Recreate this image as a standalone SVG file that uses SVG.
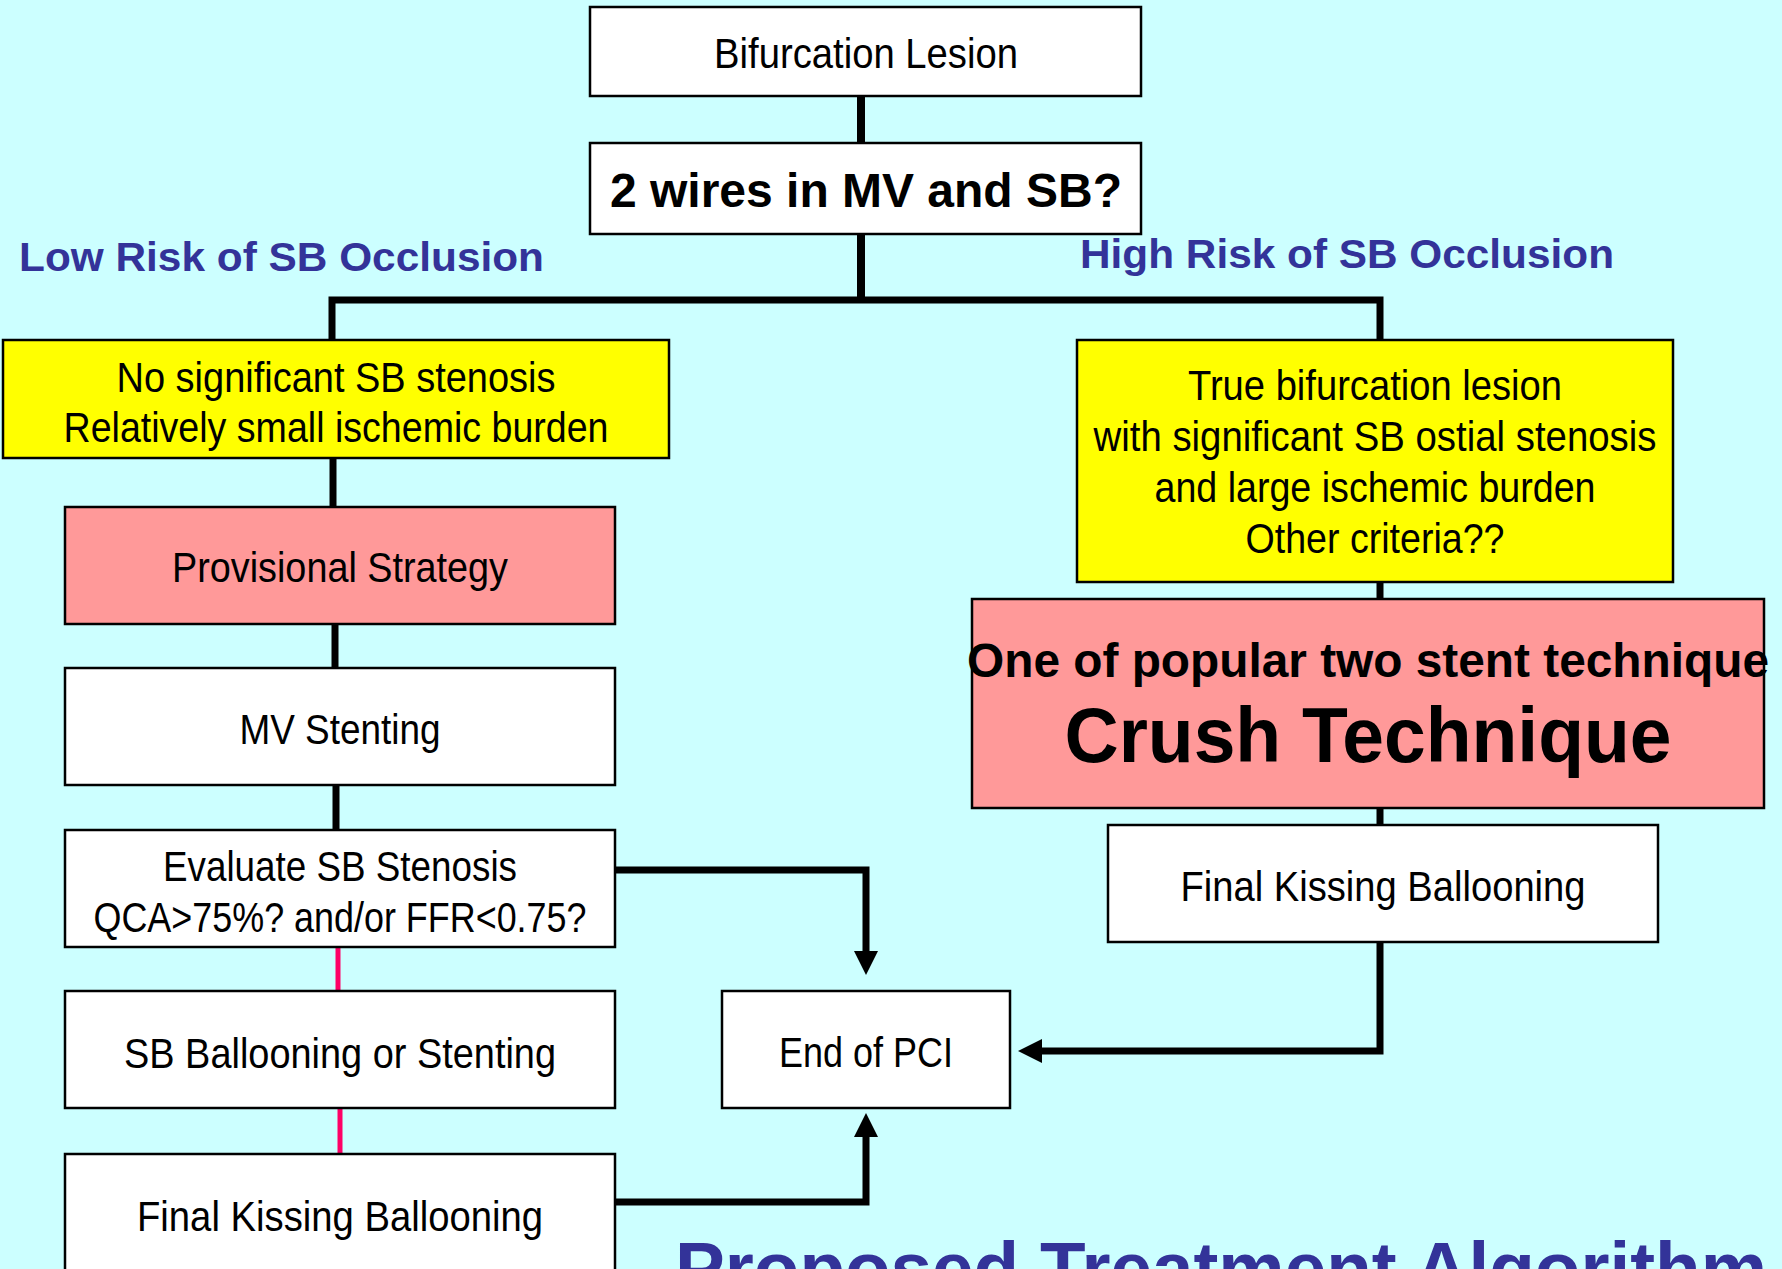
<svg xmlns="http://www.w3.org/2000/svg" width="1782" height="1269" viewBox="0 0 1782 1269">
<defs>
<style>
.box{stroke:#000;stroke-width:2.5}
.w{fill:#fff}
.y{fill:#ffff00}
.p{fill:#ff9999}
.t{font-family:"Liberation Sans Narrow","Arial Narrow","Liberation Sans",Arial,sans-serif;font-size:42px;fill:#000;text-anchor:middle}
.bd{font-family:"Liberation Sans",Arial,sans-serif;font-weight:bold;fill:#000;text-anchor:middle}
.hd{font-family:"Liberation Sans",Arial,sans-serif;font-weight:bold;fill:#333399}
.c{fill:none;stroke:#000;stroke-width:7}
.pk{fill:none;stroke:#ff0066;stroke-width:5}
</style>
<marker id="ah" markerUnits="userSpaceOnUse" markerWidth="24" markerHeight="24" refX="4" refY="12" orient="auto">
<path d="M0,0 L24,12 L0,24 z" fill="#000"/>
</marker>
</defs>
<rect width="1782" height="1269" fill="#ccffff"/>

<g id="connectors">
<path class="c" d="M861,96 V143" style="stroke-width:8"/>
<path class="c" d="M861,234 V300" style="stroke-width:8"/>
<path class="c" d="M332,341 V300 H1380 V341"/>
<path class="c" d="M1380,582 V600"/>
<path class="c" d="M1380,808 V825"/>
<path class="c" d="M333,458 V507"/>
<path class="c" d="M335,624 V668"/>
<path class="c" d="M336,785 V830"/>
<path class="pk" d="M338,947 V991"/>
<path class="pk" d="M340,1108 V1154"/>
<path class="c" d="M615,870 H866 V955" marker-end="url(#ah)"/>
<path class="c" d="M615,1202 H866 V1133" marker-end="url(#ah)"/>
<path class="c" d="M1380,942 V1051 H1038" marker-end="url(#ah)"/>
</g>

<g id="label-low">
<text class="hd" x="19" y="271" font-size="41" textLength="525" lengthAdjust="spacingAndGlyphs">Low Risk of SB Occlusion</text>
</g>
<g id="label-high">
<text class="hd" x="1080" y="268" font-size="41" textLength="534" lengthAdjust="spacingAndGlyphs">High Risk of SB Occlusion</text>
</g>

<g id="bifurcation-lesion">
<rect class="box w" x="590" y="7" width="551" height="89"/>
<text class="t" x="866" y="68" textLength="304" lengthAdjust="spacingAndGlyphs">Bifurcation Lesion</text>
</g>

<g id="two-wires">
<rect class="box w" x="590" y="143" width="551" height="91"/>
<text class="bd" x="866" y="207" font-size="48" textLength="512" lengthAdjust="spacingAndGlyphs">2 wires in MV and SB?</text>
</g>

<g id="low-criteria">
<rect class="box y" x="3" y="340" width="666" height="118"/>
<text class="t" x="336" y="392" textLength="439" lengthAdjust="spacingAndGlyphs">No significant SB stenosis</text>
<text class="t" x="336" y="442" textLength="545" lengthAdjust="spacingAndGlyphs">Relatively small ischemic burden</text>
</g>

<g id="provisional">
<rect class="box p" x="65" y="507" width="550" height="117"/>
<text class="t" x="340" y="582" textLength="336" lengthAdjust="spacingAndGlyphs">Provisional Strategy</text>
</g>

<g id="mv-stenting">
<rect class="box w" x="65" y="668" width="550" height="117"/>
<text class="t" x="340" y="744" textLength="201" lengthAdjust="spacingAndGlyphs">MV Stenting</text>
</g>

<g id="evaluate">
<rect class="box w" x="65" y="830" width="550" height="117"/>
<text class="t" x="340" y="881" textLength="354" lengthAdjust="spacingAndGlyphs">Evaluate SB Stenosis</text>
<text class="t" x="340" y="932" textLength="493" lengthAdjust="spacingAndGlyphs">QCA&gt;75%? and/or FFR&lt;0.75?</text>
</g>

<g id="sb-ballooning">
<rect class="box w" x="65" y="991" width="550" height="117"/>
<text class="t" x="340" y="1068" textLength="432" lengthAdjust="spacingAndGlyphs">SB Ballooning or Stenting</text>
</g>

<g id="fkb-left">
<rect class="box w" x="65" y="1154" width="550" height="130"/>
<text class="t" x="340" y="1231" textLength="406" lengthAdjust="spacingAndGlyphs">Final Kissing Ballooning</text>
</g>

<g id="end-of-pci">
<rect class="box w" x="722" y="991" width="288" height="117"/>
<text class="t" x="866" y="1067" textLength="174" lengthAdjust="spacingAndGlyphs">End of PCI</text>
</g>

<g id="high-criteria">
<rect class="box y" x="1077" y="340" width="596" height="242"/>
<text class="t" x="1375" y="400" textLength="374" lengthAdjust="spacingAndGlyphs">True bifurcation lesion</text>
<text class="t" x="1375" y="451" textLength="563" lengthAdjust="spacingAndGlyphs">with significant SB ostial stenosis</text>
<text class="t" x="1375" y="502" textLength="441" lengthAdjust="spacingAndGlyphs">and large ischemic burden</text>
<text class="t" x="1375" y="553" textLength="259" lengthAdjust="spacingAndGlyphs">Other criteria??</text>
</g>

<g id="crush">
<rect class="box p" x="972" y="599" width="792" height="209"/>
<text class="bd" x="1368" y="677" font-size="48" textLength="802" lengthAdjust="spacingAndGlyphs">One of popular two stent technique</text>
<text class="bd" x="1368" y="762" font-size="78" textLength="607" lengthAdjust="spacingAndGlyphs">Crush Technique</text>
</g>

<g id="fkb-right">
<rect class="box w" x="1108" y="825" width="550" height="117"/>
<text class="t" x="1383" y="901" textLength="405" lengthAdjust="spacingAndGlyphs">Final Kissing Ballooning</text>
</g>

<g id="title">
<text class="hd" x="675" y="1294" font-size="75" textLength="1092" lengthAdjust="spacingAndGlyphs">Proposed Treatment Algorithm</text>
</g>
</svg>
